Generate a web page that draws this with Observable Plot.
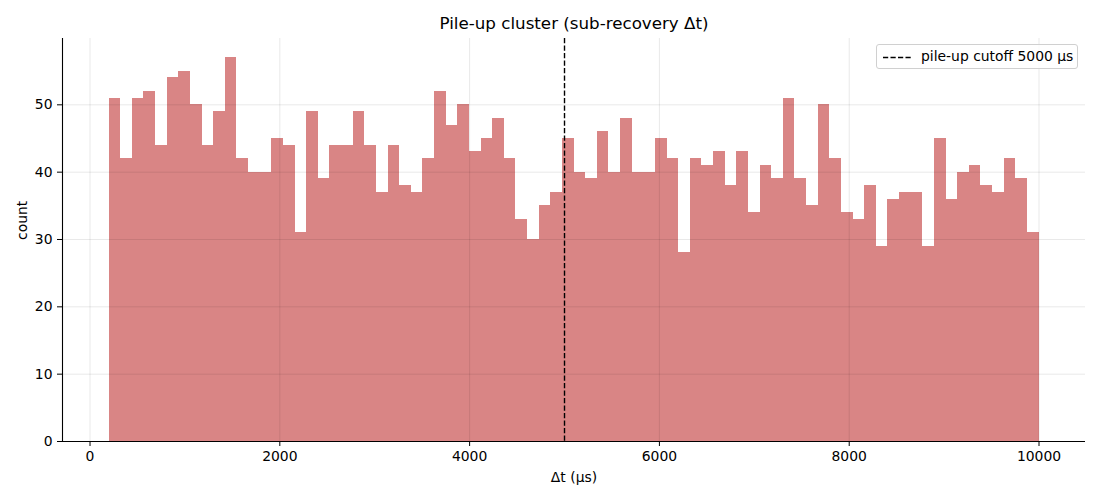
<!DOCTYPE html>
<html>
<head>
<meta charset="utf-8">
<script src="https://cdn.jsdelivr.net/npm/d3@7"></script>
<script src="https://cdn.jsdelivr.net/npm/@observablehq/plot@0.6"></script>
<style>
  body { margin: 0; background: #fff; font-family: "DejaVu Sans", sans-serif; }
  #wrap { position: relative; width: 1100px; height: 500px; }
  #legend {
    position: absolute; left: 876px; top: 44px; width: 202px; height: 25px;
    border: 1px solid #d0d0d0; border-radius: 3px; background: rgba(255,255,255,0.8);
    box-sizing: border-box; font-size: 13.9px; color: #000;
  }
  #legend svg { position: absolute; left: 5px; top: 11px; }
  #legend .lab { position: absolute; left: 44px; top: 3px; white-space: nowrap; }
</style>
</head>
<body>
<div id="wrap">
  <div id="chart"></div>
  <div id="legend"><svg width="30" height="3"><line x1="1" y1="1.5" x2="29" y2="1.5" stroke="#000" stroke-width="1.4" stroke-dasharray="5.2,2.3"/></svg><span class="lab">pile-up cutoff 5000 μs</span></div>
</div>
<script>
// Histogram: 80 bins between 200 and 10000 µs
const binLo = 200;
const binHi = 10000;
const counts = [
  51,42,51,52,44,54,55,50,44,49,57,42,40,40,45,44,31,49,39,44,
  44,49,44,37,44,38,37,42,52,47,50,43,45,48,42,33,30,35,37,45,
  40,39,46,40,48,40,40,45,42,28,42,41,43,38,43,34,41,39,51,39,
  35,50,42,34,33,38,29,36,37,37,29,45,36,40,41,38,37,42,39,31
];
const cutoff = [5000];
const xTicks = [0, 2000, 4000, 6000, 8000, 10000];
const yTicks = [0, 10, 20, 30, 40, 50];
const xDomain = [-290, 10490];
const yDomain = [0, 59.85];
const titleText = "Pile-up cluster (sub-recovery Δt)";
const xLabel = "Δt (μs)";
const yLabel = "count";

const binW = (binHi - binLo) / counts.length;
const bins = counts.map((c, i) => ({x1: binLo + i * binW, x2: binLo + (i + 1) * binW, count: c}));

const fs = 13.9;
const chart = Plot.plot({
  width: 1100,
  height: 500,
  marginLeft: 62,
  marginRight: 15,
  marginTop: 38,
  marginBottom: 59,
  style: {fontFamily: "DejaVu Sans, sans-serif", fontSize: fs + "px", color: "#000", background: "#fff"},
  x: {domain: xDomain, label: null},
  y: {domain: yDomain, label: null},
  marks: [
    Plot.rect(bins, {x1: "x1", x2: "x2", y1: 0, y2: "count", fill: "#d98585", inset: 0, shapeRendering: "crispEdges"}),
    Plot.gridX(xTicks, {stroke: "#000", strokeOpacity: 0.09, strokeWidth: 1}),
    Plot.gridY(yTicks, {stroke: "#000", strokeOpacity: 0.09, strokeWidth: 1}),
    Plot.ruleX(cutoff, {stroke: "#000", strokeWidth: 1.4, strokeDasharray: "5.2,2.3"}),
    Plot.ruleY([yDomain[0]], {stroke: "#000", strokeWidth: 1.1}),
    Plot.ruleX([xDomain[0]], {stroke: "#000", strokeWidth: 1.1}),
    Plot.axisX({ticks: xTicks, tickFormat: d3.format("d"), tickSize: 5, tickPadding: 5, label: null, fontSize: fs}),
    Plot.axisY({ticks: yTicks, tickFormat: d3.format("d"), tickSize: 5, tickPadding: 5, label: null, fontSize: fs}),
    Plot.text([xLabel], {frameAnchor: "bottom", lineAnchor: "middle", dy: 36, fontSize: fs, fill: "#000"}),
    Plot.text([yLabel], {frameAnchor: "left", lineAnchor: "middle", dx: -40, rotate: -90, fontSize: fs, fill: "#000"}),
    Plot.text([titleText], {frameAnchor: "top", lineAnchor: "middle", dy: -15, fontSize: 16.7, fill: "#000"})
  ]
});
document.getElementById("chart").appendChild(chart);
</script>
</body>
</html>
